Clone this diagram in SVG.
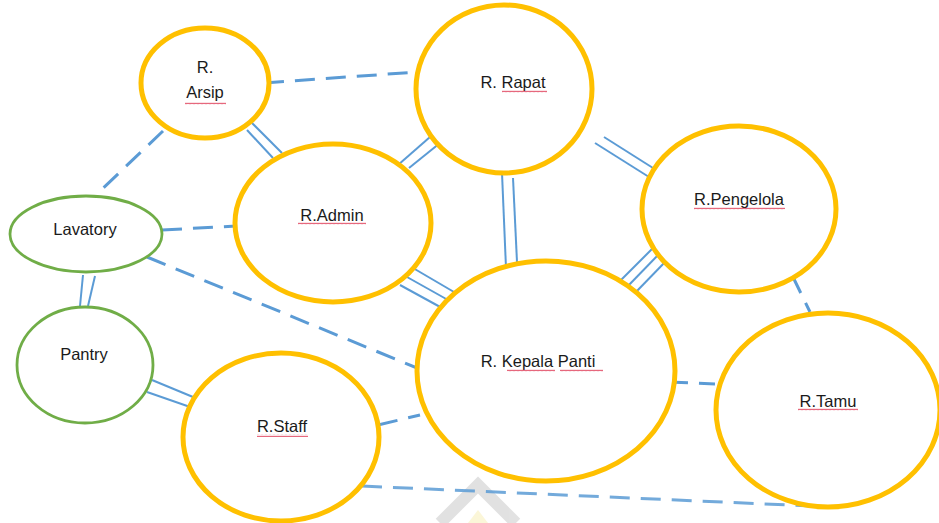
<svg xmlns="http://www.w3.org/2000/svg" width="939" height="523" viewBox="0 0 939 523">
<defs>
<style>
.room{fill:#fff;stroke:#FFC000;stroke-width:5}
.wet{fill:#fff;stroke:#70AD47;stroke-width:2.8}
.lbl{font-family:"Liberation Sans",Arial,sans-serif;font-size:16.5px;fill:#1a1a1a;text-anchor:middle}
.dash{stroke:#5B9BD5;stroke-width:3;stroke-dasharray:20 11;fill:none}
.dbl{stroke:#5B9BD5;stroke-width:2;fill:none}
.sq{fill:url(#squig)}
</style>
<pattern id="squig" width="4" height="3" patternUnits="userSpaceOnUse">
<path d="M0 2.2 L1 0.8 L2 2.2 L3 0.8 L4 2.2" fill="none" stroke="#e0405a" stroke-width="0.8"/>
</pattern>
</defs>
<rect width="939" height="523" fill="#fff"/>
<g id="watermark" opacity="0.22">
<polyline points="440,523 478,485 516,523" fill="none" stroke="#7a7a7a" stroke-width="12"/>
<polygon points="468,523 478,510 488,523" fill="#f0d850"/>
</g>
<g id="connectors">
<line class="dash" x1="264" y1="83" x2="417" y2="72"/>
<line class="dash" x1="163" y1="131" x2="98" y2="193"/>
<line class="dash" x1="162" y1="230" x2="236" y2="226"/>
<line class="dash" x1="147" y1="257" x2="422" y2="370"/>
<line class="dash" x1="378" y1="425" x2="420" y2="415"/>
<line class="dash" x1="668" y1="382" x2="715" y2="384"/>
<line class="dash" x1="792" y1="275" x2="810" y2="312"/>
<line class="dash" x1="362" y1="486" x2="833" y2="507" opacity="0.85"/>
<line class="dbl" x1="247" y1="130" x2="273" y2="158"/>
<line class="dbl" x1="252" y1="123" x2="282" y2="153"/>
<line class="dbl" x1="398" y1="165" x2="430" y2="137"/>
<line class="dbl" x1="409" y1="168" x2="440" y2="143"/>
<line class="dbl" x1="502" y1="173" x2="506" y2="268"/>
<line class="dbl" x1="513" y1="178" x2="517" y2="262"/>
<line class="dbl" x1="595" y1="143" x2="649" y2="177"/>
<line class="dbl" x1="604" y1="137" x2="653" y2="168"/>
<line class="dbl" x1="618" y1="283" x2="652" y2="249"/>
<line class="dbl" x1="627" y1="287" x2="659" y2="254"/>
<line class="dbl" x1="635" y1="293" x2="667" y2="260"/>
<line class="dbl" x1="413" y1="268" x2="454" y2="292"/>
<line class="dbl" x1="407" y1="277" x2="448" y2="300"/>
<line class="dbl" x1="400" y1="285" x2="442" y2="308"/>
<line class="dbl" x1="83" y1="275" x2="80" y2="306"/>
<line class="dbl" x1="95" y1="276" x2="88" y2="306"/>
<line class="dbl" x1="152" y1="380" x2="193" y2="397"/>
<line class="dbl" x1="147" y1="392" x2="193" y2="408"/>
</g>
<g id="r-arsip">
<ellipse class="room" cx="205" cy="83" rx="64" ry="55"/>
<text class="lbl" x="205" y="73">R.</text>
<text class="lbl" x="205" y="98">Arsip</text>
<rect class="sq" x="185" y="102" width="41" height="3"/>
</g>
<g id="r-rapat">
<ellipse class="room" cx="504" cy="89" rx="88" ry="84"/>
<text class="lbl" x="513" y="88">R. Rapat</text>
<rect class="sq" x="502" y="90" width="45" height="3"/>
</g>
<g id="r-admin">
<ellipse class="room" cx="333" cy="223" rx="98" ry="79"/>
<text class="lbl" x="332" y="221">R.Admin</text>
<rect class="sq" x="298" y="222" width="68" height="3"/>
</g>
<g id="r-pengelola">
<ellipse class="room" cx="739" cy="209" rx="97" ry="83"/>
<text class="lbl" x="739" y="205">R.Pengelola</text>
<rect class="sq" x="694" y="207" width="91" height="3"/>
</g>
<g id="r-kepala-panti">
<ellipse class="room" cx="546" cy="371" rx="129" ry="110"/>
<text class="lbl" x="538" y="367">R. Kepala Panti</text>
<rect class="sq" x="507" y="369" width="48" height="3"/>
<rect class="sq" x="560" y="369" width="43" height="3"/>
</g>
<g id="r-tamu">
<ellipse class="room" cx="828" cy="410" rx="112" ry="97"/>
<text class="lbl" x="828" y="407">R.Tamu</text>
<rect class="sq" x="798" y="408" width="60" height="3"/>
</g>
<g id="r-staff">
<ellipse class="room" cx="281" cy="437" rx="98" ry="84"/>
<text class="lbl" x="282" y="432">R.Staff</text>
<rect class="sq" x="257" y="434" width="51" height="3"/>
</g>
<g id="lavatory">
<ellipse class="wet" cx="86" cy="234" rx="76" ry="38"/>
<text class="lbl" x="85" y="235">Lavatory</text>
</g>
<g id="pantry">
<ellipse class="wet" cx="85" cy="365" rx="68" ry="58"/>
<text class="lbl" x="84" y="360">Pantry</text>
</g>
</svg>
